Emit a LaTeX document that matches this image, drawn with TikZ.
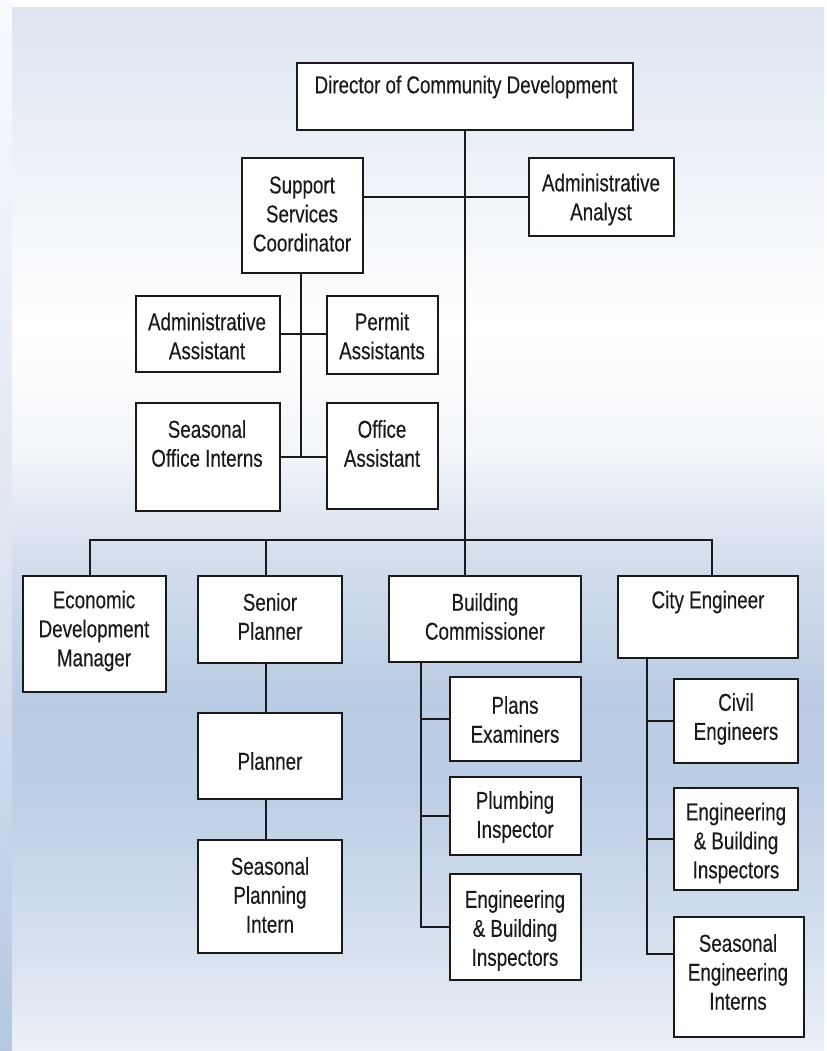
\documentclass[tikz,border=0pt]{standalone}
\usepackage{fontspec}
\setmainfont{Liberation Sans}[FakeStretch=0.77,FakeBold=0.25]
\definecolor{ink}{HTML}{1A1A1A}
\definecolor{bgA}{HTML}{DCE5F1}
\definecolor{bgB}{HTML}{FFFFFF}
\definecolor{bgC}{HTML}{F3F6FA}
\definecolor{bgD}{HTML}{D3DEEC}
\definecolor{bgE}{HTML}{B9CCE4}
\definecolor{bgF}{HTML}{BDCFE6}
\definecolor{bgG}{HTML}{D8E2EF}
\definecolor{bgH}{HTML}{ECF0F7}
\definecolor{edgeA}{HTML}{F8FAFD}
\definecolor{edgeB}{HTML}{E1E8F2}
\definecolor{edgeC}{HTML}{B4C8E2}
\begin{document}
\begin{tikzpicture}[x=1bp,y=-1bp,
  orgbox/.style={draw=ink, line width=1.8bp, fill=white, inner sep=0pt},
  txt/.style={align=center, text=ink, inner sep=0pt, font=\fontsize{24.4bp}{29bp}\selectfont},
  conn/.style={draw=ink, line width=1.8bp}]
\useasboundingbox (0,0) rectangle (827,1051);
% background
\fill[white] (0,0) rectangle (827,1051);
\fill[top color=edgeA, bottom color=edgeB] (0,0) rectangle (12,500);
\fill[top color=edgeB, bottom color=edgeC] (0,500) rectangle (12,1051);
\fill[top color=bgA, bottom color=bgB] (12,7) rectangle (824,330);
\fill[top color=bgB, bottom color=bgC] (12,330) rectangle (824,450);
\fill[top color=bgC, bottom color=bgD] (12,450) rectangle (824,560);
\fill[top color=bgD, bottom color=bgE] (12,560) rectangle (824,700);
\fill[top color=bgE, bottom color=bgF] (12,700) rectangle (824,800);
\fill[top color=bgF, bottom color=bgG] (12,800) rectangle (824,960);
\fill[top color=bgG, bottom color=bgH] (12,960) rectangle (824,1051);

% boxes
\node[orgbox, minimum width=336bp, minimum height=67bp] (dir) at (465,96.5) {};
\node[orgbox, minimum width=121bp, minimum height=115bp] (sup) at (302.5,215.5) {};
\node[orgbox, minimum width=145bp, minimum height=78bp] (ana) at (601.5,197) {};
\node[orgbox, minimum width=144bp, minimum height=76bp] (aa) at (208,334) {};
\node[orgbox, minimum width=111bp, minimum height=78bp] (pa) at (382.5,335) {};
\node[orgbox, minimum width=144bp, minimum height=108bp] (soi) at (208,457) {};
\node[orgbox, minimum width=111bp, minimum height=106bp] (oa) at (382.5,456) {};
\node[orgbox, minimum width=143bp, minimum height=116bp] (edm) at (94.5,634) {};
\node[orgbox, minimum width=144bp, minimum height=87bp] (sp) at (270,619.5) {};
\node[orgbox, minimum width=192bp, minimum height=86bp] (bc) at (485,619) {};
\node[orgbox, minimum width=180bp, minimum height=82bp] (ce) at (708,617) {};
\node[orgbox, minimum width=144bp, minimum height=86bp] (pl) at (270,756) {};
\node[orgbox, minimum width=144bp, minimum height=113bp] (spi) at (270,896.5) {};
\node[orgbox, minimum width=131bp, minimum height=84bp] (pe) at (515.5,719) {};
\node[orgbox, minimum width=131bp, minimum height=78bp] (pi) at (515.5,816) {};
\node[orgbox, minimum width=131bp, minimum height=106bp] (ebi) at (515.5,927) {};
\node[orgbox, minimum width=124bp, minimum height=84bp] (civ) at (736,721) {};
\node[orgbox, minimum width=124bp, minimum height=102bp] (ebc) at (736,839) {};
\node[orgbox, minimum width=130bp, minimum height=120bp] (sei) at (739,977) {};

% texts
\node[txt] (t-dir) at (466,87) {Director of Community Development};
\node[txt] (t-sup) at (302,214) {Support\\Services\\Coordinator};
\node[txt] (t-ana) at (601,199.5) {Administrative\\Analyst};
\node[txt] (t-aa) at (207,336) {Administrative\\Assistant};
\node[txt] (t-pa) at (382,336) {Permit\\Assistants};
\node[txt] (t-soi) at (207,443.5) {Seasonal\\Office Interns};
\node[txt] (t-oa) at (382,443.5) {Office\\Assistant};
\node[txt] (t-edm) at (94,631) {Economic\\Development\\Manager};
\node[txt] (t-sp) at (270,616.5) {Senior\\Planner};
\node[txt] (t-bc) at (485,616.5) {Building\\Commissioner};
\node[txt] (t-ce) at (708,602) {City Engineer};
\node[txt] (t-pl) at (270,761) {Planner};
\node[txt] (t-spi) at (270,895) {Seasonal\\Planning\\Intern};
\node[txt] (t-pe) at (515,719.5) {Plans\\Examiners};
\node[txt] (t-pi) at (515,817) {Plumbing\\Inspector};
\node[txt] (t-ebi) at (515,930.5) {Engineering\\\& Building\\Inspectors};
\node[txt] (t-civ) at (736,719) {Civil\\Engineers};
\node[txt] (t-ebc) at (736,843) {Engineering\\\& Building\\Inspectors};
\node[txt] (t-sei) at (738,972) {Seasonal\\Engineering\\Interns};

% helper coordinates
\coordinate (b1) at (90,540);
\coordinate (b2) at (266,540);
\coordinate (b4) at (712,540);
\coordinate (sv) at (301,457);
\coordinate (pv) at (266,700);
\coordinate (bv) at (421,700);
\coordinate (cv) at (647,700);
\coordinate (seiy) at (700,954);

% connectors
\draw[conn] (dir.south) -- (dir.south |- bc.north);
\draw[conn] (ana.west) -- (ana.west -| sup.east);
\draw[conn] (sup.south -| sv) -- (sv);
\draw[conn] (aa.east) -- (aa.east -| pa.west);
\draw[conn] (soi.east) -- (soi.east -| oa.west);
\draw[conn] (edm.north -| b1) -- (b1) -- (b4) -- (ce.north -| b4);
\draw[conn] (b2) -- (sp.north -| b2);
\draw[conn] (sp.south -| pv) -- (pl.north -| pv);
\draw[conn] (pl.south -| pv) -- (spi.north -| pv);
\draw[conn] (bc.south -| bv) -- (ebi.west -| bv) -- (ebi.west);
\draw[conn] (pe.west -| bv) -- (pe.west);
\draw[conn] (pi.west -| bv) -- (pi.west);
\draw[conn] (ce.south -| cv) -- (seiy -| cv) -- (seiy -| sei.west);
\draw[conn] (civ.west -| cv) -- (civ.west);
\draw[conn] (ebc.west -| cv) -- (ebc.west);
\end{tikzpicture}
\end{document}
